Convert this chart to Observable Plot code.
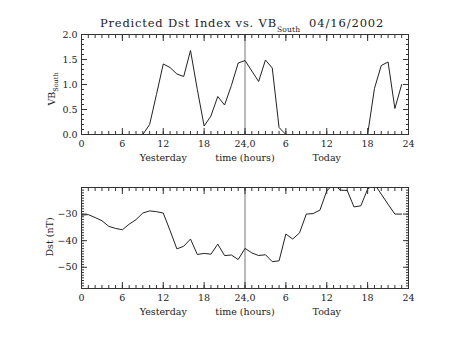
<!DOCTYPE html>
<html><head><meta charset="utf-8">
<script src="https://cdn.jsdelivr.net/npm/d3@7"></script>
<script src="https://cdn.jsdelivr.net/npm/@observablehq/plot@0.6"></script>
<style>
body{margin:0;background:#fff;}
#chart{position:relative;width:453px;height:340px;overflow:hidden;font-family:"DejaVu Serif",serif;color:#222;}
#chart svg{position:absolute;left:0;}
.lbl{position:absolute;white-space:pre;line-height:1;}
.rot{transform:translate(-50%,-50%) rotate(-90deg);font-size:9.5px;}
</style></head><body><div id="chart"></div>
<script>
// ---- data ----
const hours = [0,1,2,3,4,5,6,7,8,9,10,11,12,13,14,15,16,17,18,19,20,21,22,23,
               24,25,26,27,28,29,30,31,32,33,34,35,36,37,38,39,40,41,42,43,44,45,46,47];
const vbSouth = [0,0,0,0,0,0,0,0,0,0,0.2,0.8,1.41,1.34,1.21,1.16,1.68,0.9,0.17,0.37,0.76,0.59,0.98,1.43,
                 1.48,1.27,1.06,1.49,1.33,0.14,0,0,0,0,0,0,0,0,0,0,0,0,0,0.92,1.38,1.45,0.52,1.0];
const dst = [-30.4,-30.2,-31.3,-32.5,-34.6,-35.4,-35.9,-33.8,-32.1,-29.6,-28.8,-29.1,-29.6,-36.2,-43.1,-42.1,
             -39.4,-45.2,-44.8,-45.1,-41.3,-45.6,-45.4,-47.1,
             -42.9,-44.6,-45.6,-45.3,-47.9,-47.6,-37.5,-39.4,-37.1,-30.0,-29.8,-28.5,-21.3,-18.7,-21.0,-21.1,
             -27.3,-26.9,-20.6,-18.7,-22.5,-26.3,-30.0,-30.0];
const xTickValues = [0,6,12,18,24,30,36,42,48];
const xTickLabels = ["0","6","12","18","24,0","6","12","18","24"];
const dayLabelPos = [12,24,36];
const dayLabelText = ["Yesterday","time (hours)","Today"];
const vbTicks = [0,0.5,1.0,1.5,2.0];
const dstTicks = [-30,-40,-50];
const dstMajorTicks = [-20,-30,-40,-50];
const titleText = "Predicted Dst Index vs. VB";
const titleSub = "South";
const dateText = "04/16/2002";

const xMinor = d3.range(0, 49, 1);

function panel({values, yDomain, yMajor, yLabels, yMinor, yFormat, marginTop, marginBottom}) {
  const data = hours.map((h, i) => ({h, v: values[i]}));
  const ink = "#333";
  return Plot.plot({
    width: 453, height: 170,
    marginLeft: 81, marginRight: 45, marginTop, marginBottom,
    x: {domain: [0, 48]},
    y: {domain: yDomain},
    style: {fontFamily: "DejaVu Serif", fontSize: "9.5px", color: "#222", background: "transparent", overflow: "visible"},
    marks: [
      Plot.ruleX([24], {stroke: "#777", strokeWidth: 1}),
      Plot.line(data, {x: "h", y: "v", stroke: "#222", strokeWidth: 1, clip: true}),
      Plot.frame({stroke: ink}),
      Plot.axisX(xTickValues, {anchor: "bottom", tickSize: -6, tickFormat: () => "", label: null, stroke: ink}),
      Plot.axisX(xTickValues, {anchor: "top", tickSize: -6, tickFormat: () => "", label: null, stroke: ink}),
      Plot.axisX(xMinor, {anchor: "bottom", tickSize: -3, tickFormat: () => "", label: null, stroke: ink}),
      Plot.axisX(xMinor, {anchor: "top", tickSize: -3, tickFormat: () => "", label: null, stroke: ink}),
      Plot.axisY(yMajor, {anchor: "left", tickSize: -6, tickFormat: () => "", label: null, stroke: ink}),
      Plot.axisY(yMajor, {anchor: "right", tickSize: -6, tickFormat: () => "", label: null, stroke: ink}),
      Plot.axisY(yMinor, {anchor: "left", tickSize: -3, tickFormat: () => "", label: null, stroke: ink}),
      Plot.axisY(yMinor, {anchor: "right", tickSize: -3, tickFormat: () => "", label: null, stroke: ink}),
      Plot.axisX(xTickValues, {anchor: "bottom", tickSize: 0, tickPadding: 6, label: null,
        tickFormat: (d) => xTickLabels[xTickValues.indexOf(d)]}),
      Plot.axisY(yLabels, {anchor: "left", tickSize: 0, tickPadding: 4, label: null, tickFormat: yFormat}),
      Plot.text(dayLabelPos, {x: (d) => d, text: (d, i) => dayLabelText[i], frameAnchor: "bottom",
        dy: 23, lineAnchor: "middle", fill: "#222"})
    ]
  });
}

const chart = document.getElementById("chart");

const topPanel = panel({
  values: vbSouth, yDomain: [0, 2], yMajor: vbTicks, yLabels: vbTicks,
  yMinor: d3.range(0, 2.001, 0.1), yFormat: d3.format(".1f"),
  marginTop: 34, marginBottom: 36
});
topPanel.style.top = "0px";
chart.appendChild(topPanel);

const botPanel = panel({
  values: dst, yDomain: [-58, -20], yMajor: dstMajorTicks, yLabels: dstTicks,
  yMinor: d3.range(-58, -19.999, 1), yFormat: (d) => "\u2212" + Math.abs(d),
  marginTop: 17, marginBottom: 52
});
botPanel.style.top = "170px";
chart.appendChild(botPanel);

const t = document.createElement("div");
t.className = "lbl";
t.style.cssText = "left:100px;top:18px;font-size:11.5px;letter-spacing:0.8px;";
t.innerHTML = titleText + '<span style="font-size:7.5px;letter-spacing:0.2px;position:relative;top:5px;">' + titleSub + '</span>';
chart.appendChild(t);
const dt = document.createElement("div");
dt.className = "lbl";
dt.style.cssText = "left:309px;top:18px;font-size:11.5px;letter-spacing:0.9px;";
dt.textContent = dateText;
chart.appendChild(dt);

const yl1 = document.createElement("div");
yl1.className = "lbl rot";
yl1.style.left = "52px"; yl1.style.top = "89px";
yl1.innerHTML = 'VB<span style="font-size:6.5px;position:relative;top:3px;">South</span>';
chart.appendChild(yl1);
const yl2 = document.createElement("div");
yl2.className = "lbl rot";
yl2.style.left = "50px"; yl2.style.top = "237px";
yl2.textContent = "Dst (nT)";
chart.appendChild(yl2);
</script></body></html>
